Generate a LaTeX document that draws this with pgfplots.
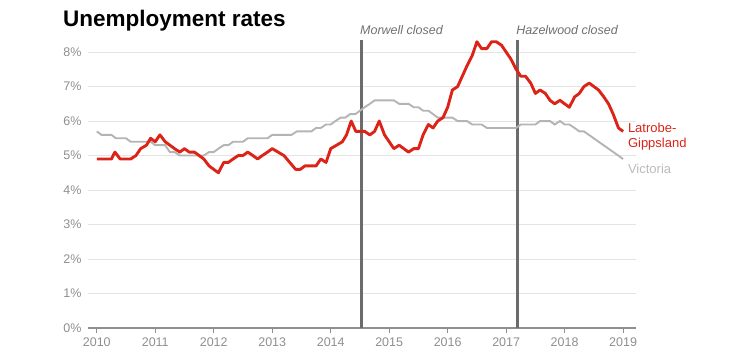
\documentclass[border=0pt]{standalone}
\usepackage{pgfplots}
\pgfplotsset{compat=1.18}
\usepackage{fontspec}
\setmainfont{Liberation Sans}
\definecolor{redline}{HTML}{DC2318}
\definecolor{greyline}{HTML}{B4B4B4}
\definecolor{ticktext}{HTML}{8F8F8F}
\definecolor{gridc}{HTML}{E4E4E4}
\definecolor{vline}{HTML}{6B6B6B}
\definecolor{annot}{HTML}{707070}
\definecolor{victext}{HTML}{BBBBBB}

\pgfplotstableread{
x y
2010.00 4.9
2010.25 4.9
2010.31 5.1
2010.40 4.9
2010.58 4.9
2010.67 5.0
2010.75 5.2
2010.85 5.3
2010.92 5.5
2011.00 5.4
2011.08 5.6
2011.17 5.4
2011.25 5.3
2011.33 5.2
2011.42 5.1
2011.50 5.2
2011.58 5.1
2011.67 5.1
2011.75 5.0
2011.83 4.9
2011.92 4.7
2012.00 4.6
2012.08 4.5
2012.17 4.8
2012.25 4.8
2012.33 4.9
2012.42 5.0
2012.50 5.0
2012.58 5.1
2012.67 5.0
2012.75 4.9
2012.83 5.0
2012.92 5.1
2013.00 5.2
2013.10 5.1
2013.20 5.0
2013.30 4.8
2013.40 4.6
2013.48 4.6
2013.56 4.7
2013.67 4.7
2013.75 4.7
2013.83 4.9
2013.92 4.8
2014.00 5.2
2014.10 5.3
2014.20 5.4
2014.27 5.6
2014.35 6.0
2014.43 5.7
2014.58 5.7
2014.67 5.6
2014.75 5.7
2014.83 6.0
2014.92 5.6
2015.00 5.4
2015.08 5.2
2015.17 5.3
2015.25 5.2
2015.33 5.1
2015.42 5.2
2015.50 5.2
2015.58 5.6
2015.67 5.9
2015.75 5.8
2015.83 6.0
2015.92 6.1
2016.00 6.4
2016.08 6.9
2016.17 7.0
2016.25 7.3
2016.33 7.6
2016.42 7.9
2016.50 8.3
2016.58 8.1
2016.67 8.1
2016.75 8.3
2016.83 8.3
2016.92 8.2
2017.00 8.0
2017.08 7.8
2017.17 7.5
2017.25 7.3
2017.33 7.3
2017.42 7.1
2017.50 6.8
2017.58 6.9
2017.67 6.8
2017.75 6.6
2017.83 6.5
2017.92 6.6
2018.00 6.5
2018.08 6.4
2018.17 6.7
2018.25 6.8
2018.33 7.0
2018.42 7.1
2018.50 7.0
2018.58 6.9
2018.67 6.7
2018.75 6.5
2018.83 6.2
2018.92 5.8
2019.00 5.7
}\latrobe

\pgfplotstableread{
x y
2010.00 5.7
2010.08 5.6
2010.25 5.6
2010.33 5.5
2010.50 5.5
2010.58 5.4
2010.92 5.4
2011.00 5.3
2011.17 5.3
2011.25 5.1
2011.33 5.1
2011.42 5.0
2011.83 5.0
2011.92 5.1
2012.00 5.1
2012.08 5.2
2012.17 5.3
2012.25 5.3
2012.33 5.4
2012.50 5.4
2012.58 5.5
2012.92 5.5
2013.00 5.6
2013.33 5.6
2013.42 5.7
2013.67 5.7
2013.75 5.8
2013.83 5.8
2013.92 5.9
2014.00 5.9
2014.08 6.0
2014.17 6.1
2014.25 6.1
2014.33 6.2
2014.42 6.2
2014.50 6.3
2014.58 6.4
2014.67 6.5
2014.75 6.6
2015.08 6.6
2015.17 6.5
2015.33 6.5
2015.42 6.4
2015.50 6.4
2015.58 6.3
2015.67 6.3
2015.75 6.2
2015.83 6.1
2016.08 6.1
2016.17 6.0
2016.33 6.0
2016.42 5.9
2016.58 5.9
2016.67 5.8
2017.17 5.8
2017.25 5.9
2017.50 5.9
2017.58 6.0
2017.75 6.0
2017.83 5.9
2017.92 6.0
2018.00 5.9
2018.08 5.9
2018.17 5.8
2018.25 5.7
2018.33 5.7
2019.00 4.9
}\victoria

\begin{document}
\begin{tikzpicture}
\useasboundingbox (0pt,0pt) rectangle (754pt,359pt);
\node[anchor=base west, inner sep=0pt, font=\fontsize{22.5}{26}\selectfont\bfseries] at (63pt,332pt) {Unemployment rates};
\begin{axis}[
  at={(88pt,31pt)}, anchor=south west,
  scale only axis, width=548pt, height=288pt,
  xmin=2009.85, xmax=2019.22, ymin=0, ymax=8.35,
  clip=false,
  axis lines*=left,
  y axis line style={draw=none},
  x axis line style={draw=ticktext, line width=1.2pt, -},
  ytick={0,1,...,8},
  yticklabels={0\%,1\%,2\%,3\%,4\%,5\%,6\%,7\%,8\%},
  xtick={2010,2011,...,2019},
  xticklabels={2010,2011,2012,2013,2014,2015,2016,2017,2018,2019},
  ytick style={draw=none},
  xtick style={draw=ticktext, line width=0.8pt},
  tick align=outside,
  major tick length=5pt,
  ymajorgrids,
  grid style={draw=gridc, line width=0.9pt},
  tick label style={font=\fontsize{12.5}{14}\selectfont, text=ticktext},
  yticklabel style={xshift=2pt},
  xticklabel style={yshift=-1pt},
]
\addplot[vline, line width=3pt] coordinates {(2014.53,0) (2014.53,8.35)};
\addplot[vline, line width=3pt] coordinates {(2017.20,0) (2017.20,8.35)};
\addplot[greyline, line width=1.9pt] table[x=x,y=y] {\victoria};
\addplot[redline, line width=2.9pt, line join=round] table[x=x,y=y] {\latrobe};
\node[anchor=base west, inner sep=0pt, font=\fontsize{12.5}{14}\selectfont\itshape, text=annot] at (axis cs:2014.50,8.5) {Morwell closed};
\node[anchor=base west, inner sep=0pt, font=\fontsize{12.5}{14}\selectfont\itshape, text=annot] at (axis cs:2017.17,8.5) {Hazelwood closed};
\node[anchor=base west, inner sep=0pt, font=\fontsize{13}{15}\selectfont, text=redline] at (axis cs:2019.08,5.68) {Latrobe-};
\node[anchor=base west, inner sep=0pt, font=\fontsize{13}{15}\selectfont, text=redline] at (axis cs:2019.08,5.22) {Gippsland};
\node[anchor=base west, inner sep=0pt, font=\fontsize{13}{15}\selectfont, text=victext] at (axis cs:2019.08,4.49) {Victoria};
\end{axis}
\end{tikzpicture}
\end{document}
